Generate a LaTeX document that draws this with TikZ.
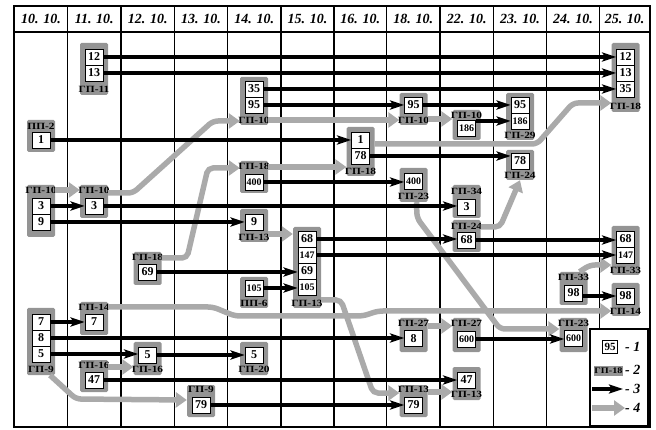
\documentclass[tikz,border=0pt]{standalone}
\usepackage{fontspec}
\setmainfont{Liberation Serif}
\newfontfamily\lblfont[FakeStretch=1.2]{Liberation Serif}
\usetikzlibrary{arrows.meta}
\usetikzlibrary{calc}

\definecolor{grpgray}{RGB}{148,148,148}
\definecolor{arrgray}{RGB}{170,170,170}

\tikzset{
  gridline/.style={line width=1.5pt},
  grp/.style={fill=grpgray, rounded corners=1.5pt, minimum width=28pt, inner sep=0pt},
  box/.style={draw, fill=white, line width=0.7pt, minimum width=18pt, minimum height=16pt, inner sep=0pt, font=\bfseries\fontsize{12}{12}\selectfont},
  tbox/.style={box, font=\bfseries\fontsize{10}{10}\selectfont},
  lbl/.style={inner sep=0pt, font=\lblfont\bfseries\fontsize{9.5}{9.5}\selectfont, text=black},
  hdr/.style={font=\bfseries\itshape\fontsize{14}{14}\selectfont},
  legtxt/.style={font=\bfseries\itshape\fontsize{14}{14}\selectfont, anchor=west, inner sep=0pt},
  blk/.style={line width=3.2pt, -{Stealth[length=14pt,width=9pt,inset=3pt]}},
  gry/.style={line width=5.5pt, draw=arrgray, rounded corners=5pt, -{Triangle[length=11pt,width=15pt]}},
}

\begin{document}
\begin{tikzpicture}[x=1pt, y=-1pt]
            \useasboundingbox (0,0) rectangle (656,430);

            % table
            \draw[gridline] (14,6) rectangle (650,427);
            \draw[gridline] (14,32) -- (650,32);
            \draw[gridline] (67.7,6) -- (67.7,427);
            \draw[gridline] (121,6) -- (121,427);
            \draw[gridline] (174.3,6) -- (174.3,427);
            \draw[gridline] (227.7,6) -- (227.7,427);
            \draw[gridline] (281,6) -- (281,427);
            \draw[gridline] (334,6) -- (334,427);
            \draw[gridline] (386.7,6) -- (386.7,427);
            \draw[gridline] (440,6) -- (440,427);
            \draw[gridline] (493.3,6) -- (493.3,427);
            \draw[gridline] (546.7,6) -- (546.7,427);
            \draw[gridline] (599.3,6) -- (599.3,427);

            \node[hdr] (h0) at (41,19) {10. 10.};
            \node[hdr] (h1) at (94.3,19) {11. 10.};
            \node[hdr] (h2) at (147.7,19) {12. 10.};
            \node[hdr] (h3) at (201,19) {13. 10.};
            \node[hdr] (h4) at (254.3,19) {14. 10.};
            \node[hdr] (h5) at (307.5,19) {15. 10.};
            \node[hdr] (h6) at (360.3,19) {16. 10.};
            \node[hdr] (h7) at (413.3,19) {18. 10.};
            \node[hdr] (h8) at (466.7,19) {22. 10.};
            \node[hdr] (h9) at (520,19) {23. 10.};
            \node[hdr] (h10) at (573,19) {24. 10.};
            \node[hdr] (h11) at (624.6,19) {25. 10.};

            % groups
            \node[grp, minimum height=52pt] (g11) at (94,69) {};
            \node[grp, minimum height=69pt] (g18a) at (625.5,77.5) {};
            \node[grp, minimum height=48pt] (g10a) at (254,101) {};
            \node[grp, minimum height=32pt] (pp2) at (41,136) {};
            \node[grp, minimum height=32pt] (g10b) at (413.5,109) {};
            \node[grp, minimum height=30pt] (g10c) at (466.5,125) {};
            \node[grp, minimum height=47pt] (g29) at (520,116.5) {};
            \node[grp, minimum height=49pt] (g18b) at (360.5,151.5) {};
            \node[grp, minimum height=30pt] (g24a) at (520,165) {};
            \node[grp, minimum height=32pt] (g18c) at (254,177) {};
            \node[grp, minimum height=34pt] (g23a) at (413.5,185) {};
            \node[grp, minimum height=52pt] (g10d) at (41,211) {};
            \node[grp, minimum height=33pt] (g10e) at (94,201.5) {};
            \node[grp, minimum height=33pt] (g34) at (466.5,201.5) {};
            \node[grp, minimum height=33pt] (g13a) at (254,225.5) {};
            \node[grp, minimum height=32pt] (g24b) at (466.5,236) {};
            \node[grp, minimum height=81pt] (g13b) at (307,267.5) {};
            \node[grp, minimum height=33pt] (g18d) at (147.5,268.5) {};
            \node[grp, minimum height=31pt] (pp6) at (254,292.5) {};
            \node[grp, minimum height=49pt] (g33a) at (625.5,250.5) {};
            \node[grp, minimum height=33pt] (g33b) at (573.5,288.5) {};
            \node[grp, minimum height=33pt] (g14a) at (625.5,299.5) {};
            \node[grp, minimum height=67pt] (g9a) at (41,341.5) {};
            \node[grp, minimum height=33pt] (g14b) at (94,318.5) {};
            \node[grp, minimum height=33pt] (g16a) at (147.5,358.5) {};
            \node[grp, minimum height=33pt] (g20) at (254,358.5) {};
            \node[grp, minimum height=32pt] (g16b) at (94,376) {};
            \node[grp, minimum height=32pt] (g9b) at (201,401) {};
            \node[grp, minimum height=34pt] (g27a) at (413.5,335) {};
            \node[grp, minimum height=34pt] (g27b) at (466.5,335) {};
            \node[grp, minimum height=34pt] (g23b) at (573.5,335) {};
            \node[grp, minimum height=32pt] (g13c) at (413.5,401) {};
            \node[grp, minimum height=33pt] (g13d) at (466.5,383.5) {};

            % boxes and labels
            \node[box] (b12a) at (94,57) {12};
            \node[box] (b13a) at (94,73) {13};
            \node[lbl] (l11) at (94,89) {ГП-11};

            \node[box] (b12b) at (625.5,57) {12};
            \node[box] (b13b) at (625.5,73) {13};
            \node[box] (b35b) at (625.5,89) {35};
            \node[lbl] (l18a) at (625.5,106) {ГП-18};

            \node[box] (b35a) at (254,89) {35};
            \node[box] (b95a) at (254,105) {95};
            \node[lbl] (l10a) at (254,120) {ГП-10};

            \node[lbl] (lpp2) at (41,126) {ПП-2};
            \node[box] (b1a) at (41,140) {1};

            \node[box] (b95b) at (413.5,105) {95};
            \node[lbl] (l10b) at (413.5,120) {ГП-10};

            \node[lbl] (l10c) at (466.5,115) {ГП-10};
            \node[tbox] (b186a) at (466.5,128) {186};

            \node[box] (b95c) at (520,105) {95};
            \node[tbox] (b186b) at (520,121) {186};
            \node[lbl] (l29) at (520,135) {ГП-29};

            \node[box] (b1b) at (360.5,140) {1};
            \node[box] (b78a) at (360.5,156) {78};
            \node[lbl] (l18b) at (360.5,171) {ГП-18};

            \node[box] (b78b) at (520,161) {78};
            \node[lbl] (l24a) at (520,175) {ГП-24};

            \node[lbl] (l18c) at (254,166.5) {ГП-18};
            \node[tbox] (b400a) at (254,182) {400};

            \node[tbox] (b400b) at (413.5,181.5) {400};
            \node[lbl] (l23a) at (413.5,196.5) {ГП-23};

            \node[lbl] (l10d) at (41,190) {ГП-10};
            \node[box] (b3a) at (41,206) {3};
            \node[box] (b9a) at (41,222) {9};

            \node[lbl] (l10e) at (94,190) {ГП-10};
            \node[box] (b3b) at (94,206) {3};

            \node[lbl] (l34) at (466.5,191) {ГП-34};
            \node[box] (b3c) at (466.5,207) {3};

            \node[box] (b9b) at (254,222) {9};
            \node[lbl] (l13a) at (254,237) {ГП-13};

            \node[lbl] (l24b) at (466.5,226) {ГП-24};
            \node[box] (b68b) at (466.5,240) {68};

            \node[box] (b68a) at (307,239) {68};
            \node[tbox] (b147a) at (307,255) {147};
            \node[box] (b69b) at (307,271) {69};
            \node[tbox] (b105b) at (307,287) {105};
            \node[lbl] (l13b) at (307,303) {ГП-13};

            \node[lbl] (l18d) at (147.5,257) {ГП-18};
            \node[box] (b69a) at (147.5,272) {69};

            \node[tbox] (b105a) at (254,288) {105};
            \node[lbl] (lpp6) at (254,303) {ПП-6};

            \node[box] (b68c) at (625.5,239) {68};
            \node[tbox] (b147b) at (625.5,255) {147};
            \node[lbl] (l33a) at (625.5,270) {ГП-33};

            \node[lbl] (l33b) at (573.5,277) {ГП-33};
            \node[box] (b98a) at (573.5,293) {98};

            \node[box] (b98b) at (625.5,296) {98};
            \node[lbl] (l14a) at (625.5,311) {ГП-14};

            \node[box] (b7a) at (41,322) {7};
            \node[box] (b8a) at (41,338) {8};
            \node[box] (b5a) at (41,354) {5};
            \node[lbl] (l9a) at (41,369) {ГП-9};

            \node[lbl] (l14b) at (94,307) {ГП-14};
            \node[box] (b7b) at (94,322) {7};

            \node[box] (b5b) at (147.5,355) {5};
            \node[lbl] (l16a) at (147.5,369) {ГП-16};

            \node[box] (b5c) at (254,355) {5};
            \node[lbl] (l20) at (254,369) {ГП-20};

            \node[lbl] (l16b) at (94,365) {ГП-16};
            \node[box] (b47a) at (94,380) {47};

            \node[lbl] (l9b) at (201,389) {ГП-9};
            \node[box] (b79a) at (201,405) {79};

            \node[lbl] (l27a) at (413.5,323) {ГП-27};
            \node[box] (b8b) at (413.5,338.5) {8};

            \node[lbl] (l27b) at (466.5,323) {ГП-27};
            \node[tbox] (b600a) at (466.5,339) {600};

            \node[lbl] (l23b) at (573.5,323) {ГП-23};
            \node[tbox] (b600b) at (573.5,338.5) {600};

            \node[lbl] (l13c) at (413.5,389) {ГП-13};
            \node[box] (b79b) at (413.5,405) {79};

            \node[box] (b47b) at (466.5,380) {47};
            \node[lbl] (l13d) at (466.5,394) {ГП-13};

            % grey arrows
            \draw[gry] (g10d.east |- 0,190) -- (g10e.west |- 0,190);
            \draw[gry] (g10e.east |- 0,193) -- (133,193) -- (213,121) -- (g10a.west |- 0,121);
            \draw[gry] (g10a.east |- 0,120) -- (g10b.west |- 0,120);
            \draw[gry] (g10b.east |- 0,119) -- (g10c.west |- 0,119);
            \draw[gry] (g18b.east |- 0,144) -- (537,144) -- (573,103) -- (g18a.west |- 0,103);
            \draw[gry] (g18d.east |- 0,258) -- (187,258) -- (208,168) -- (g18c.west |- 0,168);
            \draw[gry] (g18c.east |- 0,167) -- (g18b.west |- 0,167);
            \draw[gry] (g13a.east |- 0,234) -- (g13b.west |- 0,234);
            \draw[gry] (g13b.east |- 0,300) -- (341,300) -- (373,393) -- (g13c.west |- 0,393);
            \draw[gry] (g13c.east |- 0,392) -- (g13d.west |- 0,392);
            \draw[gry] ($(g23a.south)+(3,0)$) -- (417,218) -- (500,329) -- (g23b.west |- 0,329);
            \draw[gry] (g24b.east |- 0,227) -- (500,227) -- (g24a.south);
            \draw[gry] ($(g33b.north)+(6,0)$) -- (590,265) -- (g33a.west |- 0,265);
            \draw[gry] (g14b.east |- 0,307) -- (213,307) -- (235,316) -- (363,316) -- (378,311) -- (g14a.west |- 0,311);
            \draw[gry] (g27a.east |- 0,326) -- (g27b.west |- 0,326);
            \draw[gry] (g16b.east |- 0,367) -- (g16a.west |- 0,367);
            \draw[gry] ($(g9a.south)+(9,0)$) -- (76,399) -- (g9b.west |- 0,400);

            % black arrows
            \draw[blk] (b12a.east) -- (b12a.east -| b12b.west);
            \draw[blk] (b13a.east) -- (b13a.east -| b13b.west);
            \draw[blk] (b35a.east) -- (b35a.east -| b35b.west);
            \draw[blk] (b95a.east) -- (b95a.east -| b95b.west);
            \draw[blk] (b95b.east) -- (b95b.east -| b95c.west);
            \draw[blk] (b186b.west -| b186a.east) -- (b186b.west);
            \draw[blk] (b1a.east) -- (b1a.east -| b1b.west);
            \draw[blk] (b78a.east) -- (b78a.east -| b78b.west);
            \draw[blk] (b400a.east) -- (b400a.east -| b400b.west);
            \draw[blk] (b3a.east) -- (b3a.east -| b3b.west);
            \draw[blk] (b3b.east) -- (b3b.east -| b3c.west);
            \draw[blk] (b9a.east) -- (b9a.east -| b9b.west);
            \draw[blk] (b68a.east) -- (b68a.east -| b68b.west);
            \draw[blk] (b68b.east) -- (b68b.east -| b68c.west);
            \draw[blk] (b147a.east) -- (b147a.east -| b147b.west);
            \draw[blk] (b69a.east) -- (b69a.east -| b69b.west);
            \draw[blk] (b105a.east) -- (b105a.east -| b105b.west);
            \draw[blk] (b98b.west -| b98a.east) -- (b98b.west);
            \draw[blk] (b7a.east) -- (b7a.east -| b7b.west);
            \draw[blk] (b8a.east) -- (b8a.east -| b8b.west);
            \draw[blk] (b600a.east) -- (b600a.east -| b600b.west);
            \draw[blk] (b5a.east) -- (b5a.east -| b5b.west);
            \draw[blk] (b5b.east) -- (b5b.east -| b5c.west);
            \draw[blk] (b47a.east) -- (b47a.east -| b47b.west);
            \draw[blk] (b79a.east) -- (b79a.east -| b79b.west);

            % legend
            \node[draw, fill=white, line width=1.2pt, minimum width=58pt, minimum height=97pt, inner sep=0pt] (leg) at (619,377.5) {};
            \node[box, minimum width=15pt, minimum height=13pt, font=\bfseries\fontsize{11}{11}\selectfont] (lg1) at (610,346.5) {95};
            \node[legtxt] (lt1) at (625,347) {- 1};
            \node[lbl, fill=grpgray, minimum width=29pt, minimum height=10pt, font=\lblfont\bfseries\fontsize{8.5}{8.5}\selectfont] (lg2) at (608.5,371) {ГП-18};
            \node[legtxt] (lt2) at (625,370) {- 2};
            \coordinate (lg3a) at (592,389);
            \coordinate (lg3b) at (623,389);
            \draw[blk] (lg3a) -- (lg3b);
            \node[legtxt] (lt3) at (625,388.5) {- 3};
            \coordinate (lg4a) at (592,408);
            \coordinate (lg4b) at (625,408);
            \draw[gry] (lg4a) -- (lg4b);
            \node[legtxt] (lt4) at (625,408) {- 4};
        \end{tikzpicture}
\end{document}
